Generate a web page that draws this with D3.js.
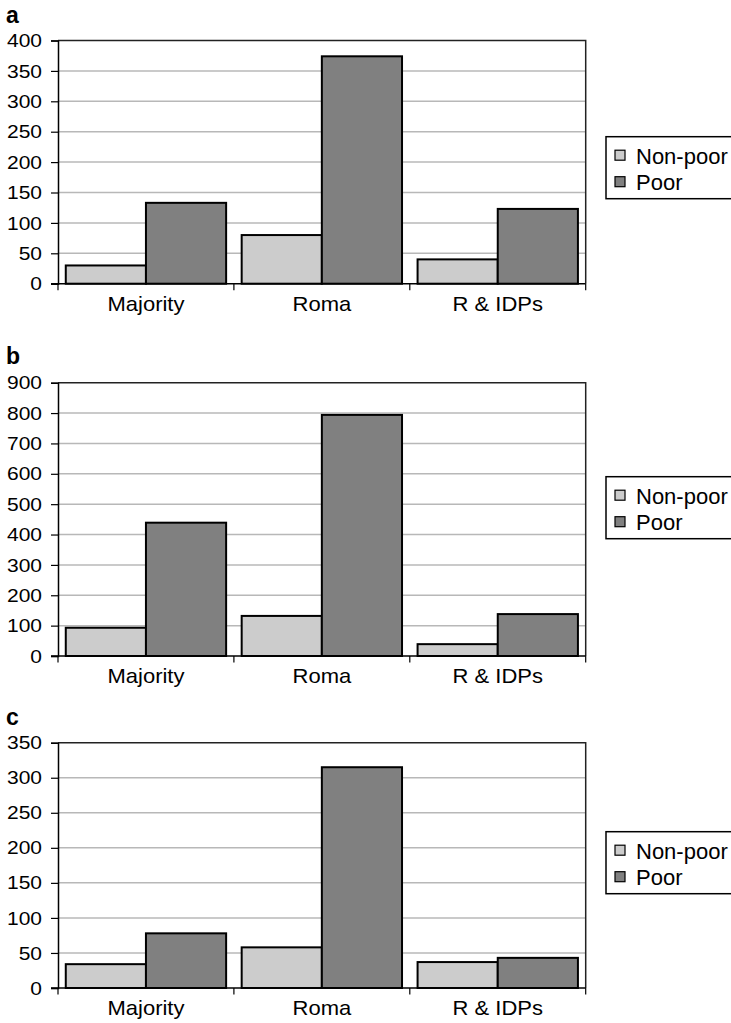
<!DOCTYPE html>
<html>
<head>
<meta charset="utf-8">
<script src="https://cdn.jsdelivr.net/npm/d3@7"></script>
<style>
  html, body { margin: 0; padding: 0; background: #fff; }
  svg { display: block; }
  text { font-family: "Liberation Sans", Arial, Helvetica, sans-serif; fill: #000; }
</style>
</head>
<body>
<svg id="chart" width="731" height="1023"></svg>
<script>
// Group categories and series
const categories = ["Majority", "Roma", "R & IDPs"];
const seriesNames = ["Non-poor", "Poor"];
const panelLabels = ["a", "b", "c"];

// Panel a
const nonPoorA = [30, 80, 40];
const poorA = [133, 374, 123];
const ticksA = [0, 50, 100, 150, 200, 250, 300, 350, 400];

// Panel b
const nonPoorB = [93, 132, 39];
const poorB = [439, 794, 138];
const ticksB = [0, 100, 200, 300, 400, 500, 600, 700, 800, 900];

// Panel c
const nonPoorC = [34, 58, 37];
const poorC = [78, 315, 43];
const ticksC = [0, 50, 100, 150, 200, 250, 300, 350];

const seriesFill = { "Non-poor": "#cccccc", "Poor": "#808080" };

const panels = [
  { label: panelLabels[0], values: [nonPoorA, poorA], ticks: ticksA, top: 40.5, bottom: 283.7, legendTop: 136.7, labelY: 22.7 },
  { label: panelLabels[1], values: [nonPoorB, poorB], ticks: ticksB, top: 382.7, bottom: 656, legendTop: 476.7, labelY: 364 },
  { label: panelLabels[2], values: [nonPoorC, poorC], ticks: ticksC, top: 742.7, bottom: 988, legendTop: 831.7, labelY: 725 }
];

const svg = d3.select("#chart");
const left = 58, right = 585.7;

// text drawn with a horizontal stretch
function stretchedText(g, x, y, str, size, sx, anchor) {
  const t = g.append("g").attr("transform", `translate(${x},${y}) scale(${sx},1)`)
    .append("text")
    .attr("font-size", size)
    .attr("text-anchor", anchor)
    .text(str);
  return t;
}

panels.forEach(p => {
  const g = svg.append("g");
  const yMax = p.ticks[p.ticks.length - 1];
  const y = d3.scaleLinear().domain([0, yMax]).range([p.bottom, p.top]);
  const x0 = d3.scaleBand().domain(categories).range([left, right]).padding(0);
  const x1 = d3.scaleBand().domain(seriesNames).range([0, x0.bandwidth()])
    .paddingInner(0).paddingOuter(0.097);

  // panel letter
  g.append("text").attr("x", 6).attr("y", p.labelY)
    .attr("font-size", 23).attr("font-weight", "bold").text(p.label);

  // gridlines
  g.append("g").selectAll("line")
    .data(p.ticks.filter(t => t > 0 && t < yMax))
    .join("line")
    .attr("x1", left).attr("x2", right)
    .attr("y1", d => y(d)).attr("y2", d => y(d))
    .attr("stroke", "#b8b8b8").attr("stroke-width", 1.5);

  // plot frame (top and right)
  g.append("path")
    .attr("d", `M${left},${y(yMax)}H${right}V${y(0)}`)
    .attr("fill", "none").attr("stroke", "#222").attr("stroke-width", 1.5);

  // bars
  seriesNames.forEach((s, si) => {
    g.append("g").selectAll("rect")
      .data(categories.map((c, ci) => ({ c, v: p.values[si][ci] })))
      .join("rect")
      .attr("x", d => x0(d.c) + x1(s))
      .attr("width", x1.bandwidth())
      .attr("y", d => y(d.v))
      .attr("height", d => y(0) - y(d.v))
      .attr("fill", seriesFill[s])
      .attr("stroke", "#000").attr("stroke-width", 2);
  });

  // y axis
  const yAxis = d3.axisLeft(y).tickValues(p.ticks).tickSize(7).tickFormat("");
  const ya = g.append("g").attr("transform", `translate(${left},0)`).call(yAxis);
  ya.select(".domain").attr("stroke", "#000").attr("stroke-width", 1.5);
  ya.selectAll(".tick line").attr("stroke", "#000").attr("stroke-width", 1.2);
  p.ticks.forEach(t => {
    stretchedText(g, 42, y(t) + 6.6, String(t), 18.6, 1.13, "end");
  });

  // x axis with boundary ticks
  g.append("line").attr("x1", left - 7).attr("x2", right)
    .attr("y1", y(0)).attr("y2", y(0))
    .attr("stroke", "#000").attr("stroke-width", 1.5);
  const bounds = [left].concat(categories.map(c => x0(c) + x0.bandwidth()));
  g.append("g").selectAll("line").data(bounds).join("line")
    .attr("x1", d => d).attr("x2", d => d)
    .attr("y1", y(0)).attr("y2", y(0) + 6.5)
    .attr("stroke", "#000").attr("stroke-width", 1.2);
  categories.forEach(c => {
    stretchedText(g, x0(c) + x0.bandwidth() / 2, y(0) + 27, c, 20, 1.1, "middle");
  });

  // legend
  const lg = g.append("g").attr("transform", `translate(606,${p.legendTop})`);
  lg.append("rect").attr("x", 0).attr("y", 0).attr("width", 140).attr("height", 62)
    .attr("fill", "#fff").attr("stroke", "#000").attr("stroke-width", 1.5);
  seriesNames.forEach((s, i) => {
    lg.append("rect").attr("x", 9).attr("y", 13.5 + i * 26.5).attr("width", 10).attr("height", 10)
      .attr("fill", seriesFill[s]).attr("stroke", "#000").attr("stroke-width", 1.2);
    lg.append("text").attr("x", 30).attr("y", 27.3 + i * 26)
      .attr("font-size", 22).text(s);
  });
});
</script>
</body>
</html>
